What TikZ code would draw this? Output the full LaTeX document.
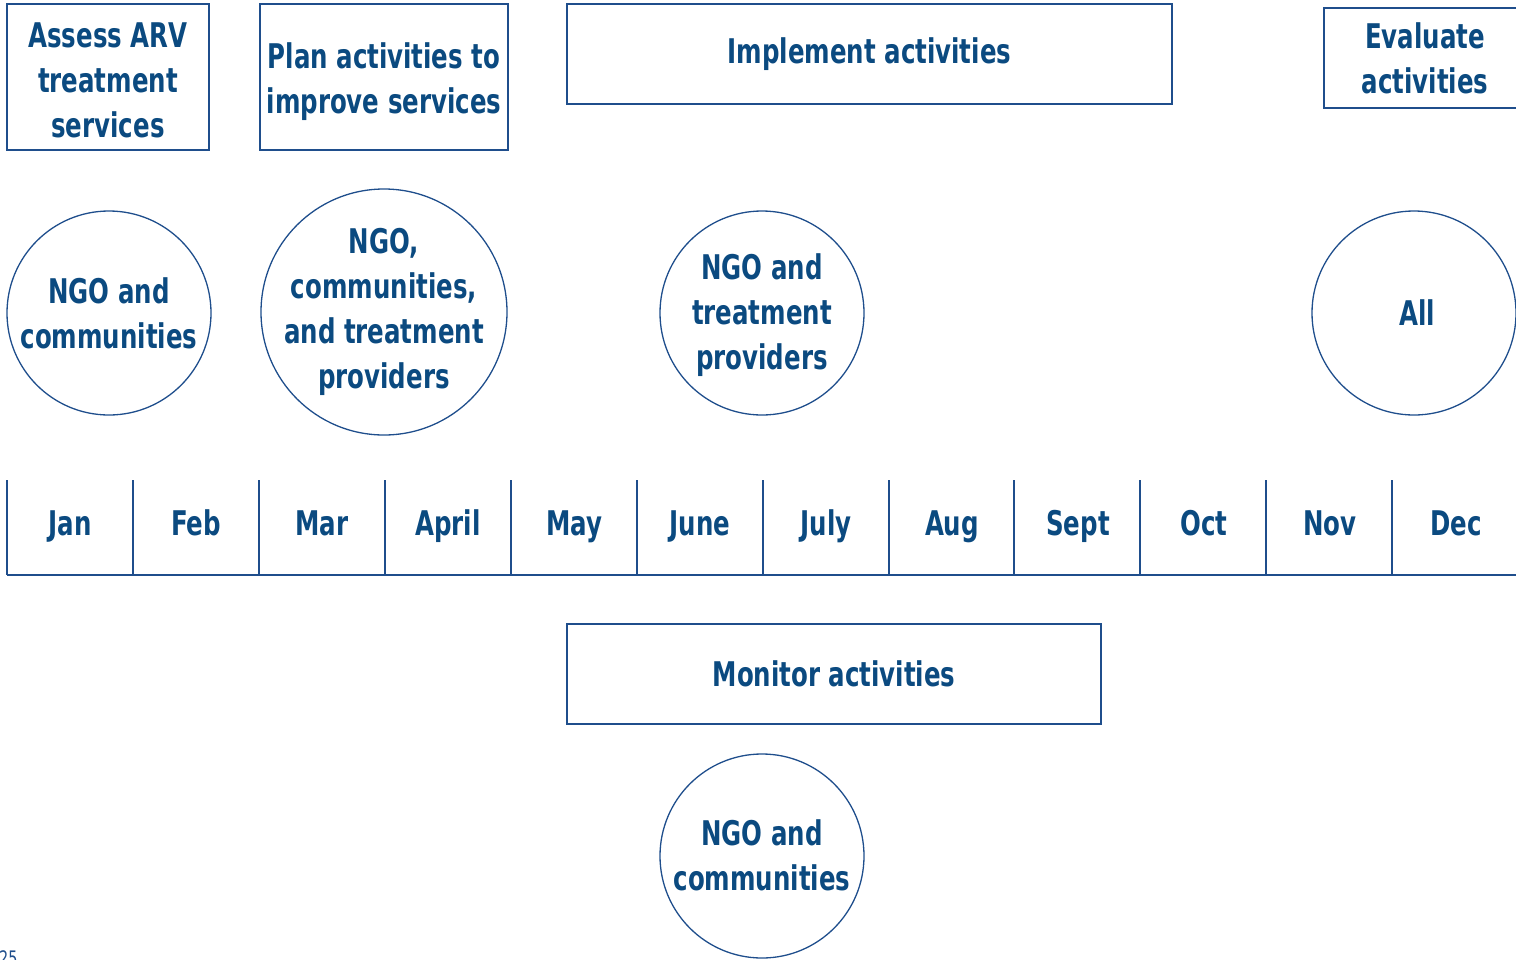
\documentclass[tikz,border=0pt]{standalone}
\usepackage{fontspec}
\setmainfont{DejaVu Sans Condensed}[BoldFont={DejaVu Sans Condensed Bold},FakeStretch=0.8]
\definecolor{ink}{HTML}{0B4A80}
\definecolor{rule}{HTML}{1F4E8C}
\tikzset{
  lbl/.style={text=ink,font=\fontsize{34}{45}\selectfont\bfseries,align=center,inner sep=0pt},
  box/.style={lbl,draw=rule,line width=1.3pt,rectangle},
  disc/.style={draw=rule,line width=1.3pt,circle,inner sep=0pt,minimum size=204pt},
  month/.style={lbl,anchor=base},
  tl/.style={draw=rule,line width=1.5pt}
}
\begin{document}
\begin{tikzpicture}[x=1pt,y=-1pt]
\useasboundingbox (0,0) rectangle (1516,959);
\clip (0,0) rectangle (1516,959);
% top boxes
\node[box,minimum width=202pt,minimum height=146pt] (b1) at (108,77) {};
\node[lbl] (b1t) at (108,80) {Assess ARV\\treatment\\services};
\node[box,minimum width=248pt,minimum height=146pt] (b2) at (384,77) {};
\node[lbl] (b2t) at (384,82) {Plan activities to\\improve services};
\node[box,minimum width=605pt,minimum height=100pt] (b3) at (869.5,54) {Implement activities};
\node[box,minimum width=210pt,minimum height=100pt] (b4) at (1429,58) {};
\node[lbl] (b4t) at (1425,58) {Evaluate\\activities};
% circles
\node[disc] (c1) at (109,313) {};
\node[lbl] (c1t) at (c1) {NGO and\\communities};
\node[disc,minimum size=246pt] (c2) at (384,312) {};
\node[lbl] (c2t) at (c2) {NGO,\\communities,\\and treatment\\providers};
\node[disc] (c3) at (762,313) {};
\node[lbl] (c3t) at (762,315) {NGO and\\treatment\\providers};
\node[disc] (c4) at (1414,313) {};
\node[lbl] (c4t) at (1417,313) {All};
% timeline
\foreach \x in {7,133,259,385,511,637,763,889,1014,1140,1266,1392}{
  \draw[tl] (\x,480) -- (\x,575);
}
\coordinate (tlA) at (7,575);
\coordinate (tlB) at (1516,575);
\draw[tl] (tlA) -- (tlB);
\foreach \m [count=\i] in {Jan,Feb,Mar,April,May,June,July,Aug,Sept,Oct,Nov,Dec}{
  \node[month] (m\i) at ({7+126*(\i-0.5)},535) {\m};
}
% monitor
\node[box,minimum width=534pt,minimum height=100pt] (b5) at (834,674) {Monitor activities};
\node[disc] (c5) at (762,856) {};
\node[lbl] (c5t) at (762,855) {NGO and\\communities};
% page number
\node[anchor=north west,inner sep=0pt,text=rule,font=\fontsize{20}{20}\selectfont] (pg) at (-1,950) {25};
\end{tikzpicture}
\end{document}
